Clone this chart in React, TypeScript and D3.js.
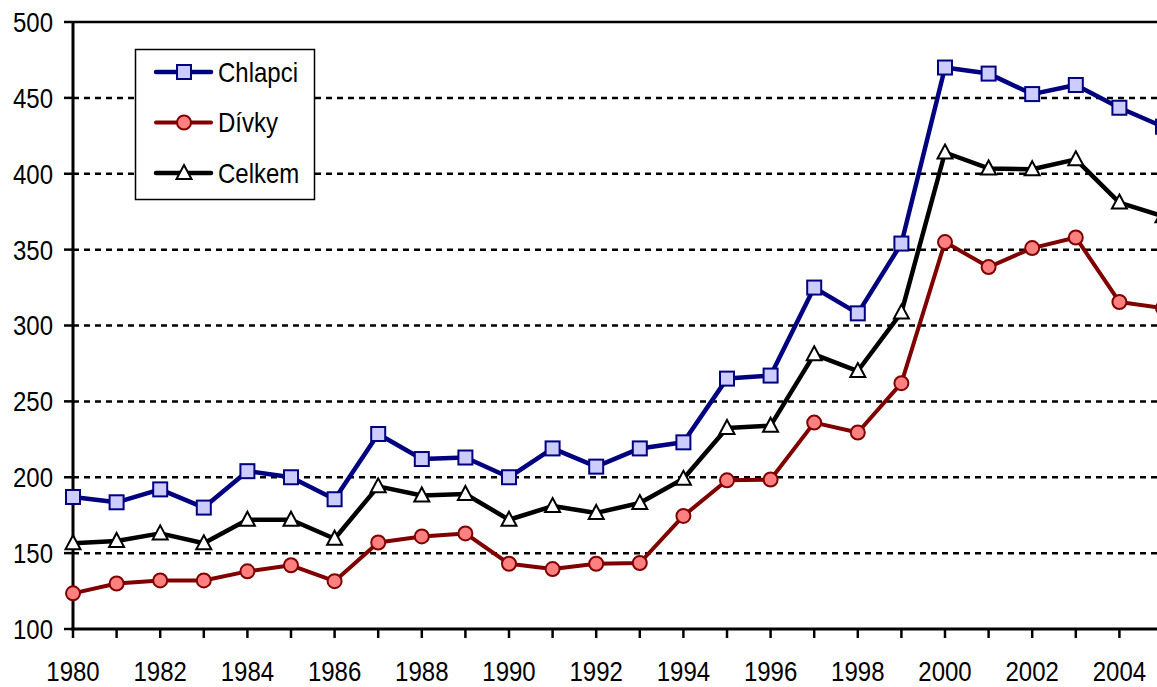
import React from "react";
import * as d3 from "d3";

const years = d3.range(1980, 2006);
const chlapci = [187, 183.5, 192, 180, 204, 200, 185.5, 228.5, 212, 213, 200, 219, 207, 219, 223, 265, 267, 325, 308, 354, 470, 466, 452.5, 458.5, 443.5, 431];
const divky = [123.5, 130, 132, 132, 138, 142, 131.5, 157, 161, 163, 143, 139.5, 143, 143.5, 174.5, 198, 198.5, 236, 229.5, 262, 355, 338.5, 351, 358, 315.5, 311.5];
const celkem = [156.5, 158, 163, 156.5, 172, 172, 159.5, 194, 188, 189, 172, 181, 176.5, 183, 199, 232.5, 234, 281, 270, 308.5, 414, 403.5, 403, 409.5, 381, 372];
const yTicks = [100, 150, 200, 250, 300, 350, 400, 450, 500];
const xTickLabels = d3.range(1980, 2005, 2);

const W = 1157;
const H = 687;
const FONT = "'Liberation Sans', Arial, sans-serif";
const FS = 24;
const SY = 1.15;
const HALF_CAP = (0.716 * FS * SY) / 2;

const x = d3.scaleLinear().domain([1980, 2000]).range([73, 945]);
const y = d3.scaleLinear().domain([100, 500]).range([629, 22]);

type Kind = "square" | "circle" | "triangle";

function Txt({ x, y, anchor, children }: { x: number; y: number; anchor: string; children: React.ReactNode }) {
  return (
    <g transform={`translate(${x},${y}) scale(1,${SY})`}>
      <text x={0} y={0} textAnchor={anchor} fontSize={FS} fill="#000">
        {children}
      </text>
    </g>
  );
}

function Marker({ kind, cx, cy }: { kind: Kind; cx: number; cy: number }) {
  if (kind === "square") {
    return <rect x={cx - 7} y={cy - 7} width={14} height={14} fill="#ccccff" stroke="#000080" strokeWidth={2} />;
  }
  if (kind === "circle") {
    return <circle cx={cx} cy={cy} r={7} fill="#ff8080" stroke="#800000" strokeWidth={2} />;
  }
  const p = `M${cx},${cy - 8} L${cx + 7.5},${cy + 6} L${cx - 7.5},${cy + 6} Z`;
  return <path d={p} fill="#ffffff" stroke="#000000" strokeWidth={2} />;
}

const series: { name: string; values: number[]; color: string; kind: Kind; width: number }[] = [
  { name: "Chlapci", values: chlapci, color: "#000080", kind: "square", width: 4.5 },
  { name: "Dívky", values: divky, color: "#800000", kind: "circle", width: 4 },
  { name: "Celkem", values: celkem, color: "#000000", kind: "triangle", width: 4.5 },
];

export default function App() {
  const line = d3
    .line<number>()
    .x((_, i) => x(years[i]))
    .y((d) => y(d));

  const drawOrder = [series[1], series[2], series[0]];

  return (
    <svg
      width={W}
      height={H}
      style={{ position: "absolute", left: 0, top: 0, display: "block", background: "#fff" }}
      fontFamily={FONT}
    >
      {/* grid lines */}
      {yTicks
        .filter((t) => t !== 100 && t !== 500)
        .map((t) => (
          <line key={t} x1={73} x2={W} y1={y(t)} y2={y(t)} stroke="#000" strokeWidth={2.5} strokeDasharray="6,5" />
        ))}
      <line x1={73} x2={W} y1={y(500)} y2={y(500)} stroke="#000" strokeWidth={2.5} />

      {/* y axis */}
      <line x1={73} x2={73} y1={y(500) - 1} y2={y(100) + 1.5} stroke="#000" strokeWidth={3} />
      {yTicks.map((t) => (
        <g key={t}>
          <line x1={64} x2={73} y1={y(t)} y2={y(t)} stroke="#000" strokeWidth={2.5} />
          <Txt x={53} y={y(t) + HALF_CAP} anchor="end">
            {t}
          </Txt>
        </g>
      ))}

      {/* x axis */}
      <line x1={71.5} x2={W} y1={y(100)} y2={y(100)} stroke="#000" strokeWidth={3} />
      {years.map((yr) => (
        <line key={yr} x1={x(yr)} x2={x(yr)} y1={y(100)} y2={y(100) + 9} stroke="#000" strokeWidth={2.5} />
      ))}
      {xTickLabels.map((yr) => (
        <Txt key={yr} x={x(yr)} y={681} anchor="middle">
          {yr}
        </Txt>
      ))}

      {/* series */}
      {drawOrder.map((s) => (
        <g key={s.name}>
          <path d={line(s.values) || ""} fill="none" stroke={s.color} strokeWidth={s.width} strokeLinejoin="round" />
          {s.values.map((v, i) => (
            <Marker key={i} kind={s.kind} cx={x(years[i])} cy={y(v)} />
          ))}
        </g>
      ))}

      {/* legend */}
      <rect x={135.5} y={49.5} width={179} height={150} fill="#fff" stroke="#000" strokeWidth={1.5} />
      {series.map((s, i) => {
        const cy = 72 + i * 50.5;
        return (
          <g key={s.name}>
            <line x1={156} x2={211} y1={cy} y2={cy} stroke={s.color} strokeWidth={s.width} strokeLinecap="round" />
            <Marker kind={s.kind} cx={184} cy={cy} />
            <Txt x={218} y={cy + HALF_CAP} anchor="start">
              {s.name}
            </Txt>
          </g>
        );
      })}
    </svg>
  );
}
